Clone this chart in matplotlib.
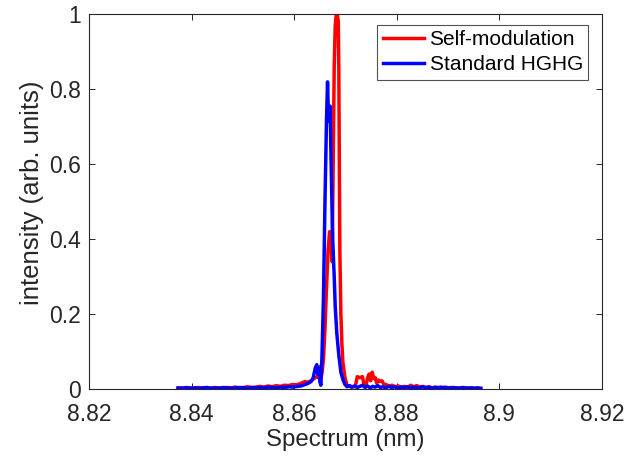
import matplotlib
matplotlib.use("Agg")
import matplotlib.pyplot as plt

plt.rcParams['font.family'] = ['Liberation Sans', 'DejaVu Sans']

# Self-modulation spectrum (wavelength nm, normalized intensity)
red_x = [8.8373, 8.8381, 8.8389, 8.8397, 8.8405, 8.8413, 8.8421, 8.8429, 8.8437, 8.8445,
         8.8453, 8.8461, 8.8469, 8.8477, 8.8485, 8.8493, 8.8501, 8.8509, 8.8517, 8.8525,
         8.8533, 8.8541, 8.8549, 8.8557, 8.8565, 8.8573, 8.8581, 8.8589, 8.8597, 8.8605,
         8.8613, 8.8621, 8.8627, 8.8633, 8.8639, 8.8644, 8.8648, 8.8650, 8.8652, 8.8654,
         8.8657, 8.8660, 8.8663, 8.8666, 8.8669, 8.8671, 8.8673, 8.8674, 8.8676, 8.8678,
         8.8680, 8.8682, 8.8684, 8.8686, 8.8687, 8.8688, 8.8689, 8.8691, 8.8693, 8.8695,
         8.8699, 8.8703, 8.8707, 8.8711, 8.8715, 8.8719, 8.8723, 8.8728, 8.8733, 8.8736,
         8.8740, 8.8743, 8.8746, 8.8749, 8.8752, 8.8755, 8.8758, 8.8761, 8.8764, 8.8767,
         8.8771, 8.8775, 8.8779, 8.8785, 8.8791, 8.8797, 8.8803, 8.8809, 8.8815, 8.8821,
         8.8827, 8.8833, 8.8839, 8.8845, 8.8851, 8.8857, 8.8863, 8.8869, 8.8875, 8.8881,
         8.8887, 8.8893, 8.8899, 8.8905, 8.8911, 8.8917, 8.8923, 8.8929, 8.8935, 8.8941,
         8.8947, 8.8957]
red_y = [0.002, 0.003, 0.001, 0.003, 0.002, 0.004, 0.002, 0.003, 0.002, 0.004,
         0.003, 0.002, 0.004, 0.003, 0.005, 0.003, 0.004, 0.006, 0.004, 0.005,
         0.007, 0.005, 0.008, 0.006, 0.009, 0.007, 0.010, 0.009, 0.012, 0.011,
         0.015, 0.020, 0.018, 0.022, 0.028, 0.033, 0.030, 0.060, 0.035, 0.040,
         0.080, 0.160, 0.270, 0.370, 0.420, 0.410, 0.360, 0.340, 0.600, 0.860,
         0.970, 1.000, 1.000, 0.980, 0.850, 0.600, 0.370, 0.200, 0.120, 0.070,
         0.030, 0.010, 0.008, 0.005, 0.007, 0.006, 0.033, 0.030, 0.033, 0.012,
         0.010, 0.030, 0.040, 0.022, 0.045, 0.028, 0.030, 0.015, 0.024, 0.020,
         0.022, 0.012, 0.012, 0.008, 0.010, 0.006, 0.008, 0.005, 0.007, 0.004,
         0.010, 0.006, 0.009, 0.005, 0.007, 0.004, 0.006, 0.003, 0.005, 0.004,
         0.003, 0.005, 0.003, 0.004, 0.002, 0.003, 0.002, 0.003, 0.002, 0.003,
         0.002, 0.002]

# Standard HGHG spectrum
blue_x = [8.8374, 8.8382, 8.8390, 8.8398, 8.8406, 8.8414, 8.8422, 8.8430, 8.8438, 8.8446,
          8.8454, 8.8462, 8.8470, 8.8478, 8.8486, 8.8494, 8.8502, 8.8510, 8.8518, 8.8526,
          8.8534, 8.8542, 8.8550, 8.8558, 8.8566, 8.8574, 8.8582, 8.8590, 8.8598, 8.8606,
          8.8613, 8.8621, 8.8627, 8.8633, 8.8637, 8.8641, 8.8644, 8.8646, 8.8648, 8.8650,
          8.8652, 8.8654, 8.8657, 8.8660, 8.8663, 8.8665, 8.8667, 8.8670, 8.8672, 8.8675,
          8.8678, 8.8680, 8.8683, 8.8687, 8.8691, 8.8695, 8.8699, 8.8703, 8.8708, 8.8713,
          8.8718, 8.8723, 8.8728, 8.8733, 8.8738, 8.8743, 8.8748, 8.8753, 8.8758, 8.8763,
          8.8768, 8.8773, 8.8778, 8.8784, 8.8790, 8.8796, 8.8802, 8.8808, 8.8814, 8.8820,
          8.8826, 8.8832, 8.8838, 8.8844, 8.8850, 8.8856, 8.8862, 8.8868, 8.8874, 8.8880,
          8.8886, 8.8892, 8.8898, 8.8904, 8.8910, 8.8916, 8.8922, 8.8928, 8.8934, 8.8940,
          8.8946, 8.8952, 8.8958, 8.8964]
blue_y = [0.003, 0.002, 0.004, 0.002, 0.003, 0.002, 0.003, 0.004, 0.002, 0.003,
          0.002, 0.004, 0.003, 0.002, 0.003, 0.004, 0.003, 0.002, 0.004, 0.003,
          0.004, 0.003, 0.005, 0.004, 0.003, 0.005, 0.004, 0.006, 0.005, 0.007,
          0.008, 0.012, 0.015, 0.020, 0.030, 0.055, 0.065, 0.040, 0.055, 0.020,
          0.010, 0.080, 0.240, 0.500, 0.720, 0.820, 0.715, 0.755, 0.600, 0.400,
          0.300, 0.220, 0.150, 0.090, 0.045, 0.025, 0.012, 0.006, 0.009, 0.005,
          0.008, 0.004, 0.007, 0.010, 0.004, 0.008, 0.003, 0.007, 0.005, 0.009,
          0.004, 0.006, 0.003, 0.007, 0.004, 0.006, 0.003, 0.005, 0.004, 0.006,
          0.003, 0.005, 0.004, 0.003, 0.006, 0.003, 0.005, 0.002, 0.004, 0.003,
          0.005, 0.003, 0.004, 0.002, 0.004, 0.003, 0.002, 0.004, 0.003, 0.002,
          0.003, 0.002, 0.003, 0.002]

xticks = [8.82, 8.84, 8.86, 8.88, 8.90, 8.92]
xtick_labels = ["8.82", "8.84", "8.86", "8.88", "8.9", "8.92"]
yticks = [0, 0.2, 0.4, 0.6, 0.8, 1.0]
ytick_labels = ["0", "0.2", "0.4", "0.6", "0.8", "1"]

dark = '#262626'
fig = plt.figure(figsize=(6.28, 4.69), dpi=100)
ax = fig.add_axes([0.1417, 0.1706, 0.8169, 0.7985])

ax.plot(red_x, red_y, color=(1, 0, 0), lw=2.5, label='Self-modulation')
ax.plot(blue_x, blue_y, color=(0, 0, 1), lw=2.5, label='Standard HGHG')

ax.set_xlim(8.82, 8.92)
ax.set_ylim(0, 1)
ax.set_xticks(xticks)
ax.set_xticklabels(xtick_labels)
ax.set_yticks(yticks)
ax.set_yticklabels(ytick_labels)
ax.tick_params(direction='in', top=True, right=True, length=4, width=0.7,
               labelsize=16.5, colors=dark)
ax.tick_params(axis='x', pad=10)
ax.tick_params(axis='y', pad=6)
for s in ax.spines.values():
    s.set_color(dark)
    s.set_linewidth(0.8)

ax.set_xlabel('Spectrum (nm)', fontsize=17.3, color=dark, labelpad=2)
ax.set_ylabel('intensity (arb. units)', fontsize=18.5, color=dark, labelpad=2)
ax.yaxis.set_label_coords(-0.088, 0.525)

leg = ax.legend(loc='upper right', bbox_to_anchor=(0.9727, 0.972), borderaxespad=0,
                fontsize=15, frameon=True, fancybox=False, borderpad=0.25,
                handlelength=2.0, handletextpad=0.25, labelspacing=0.3)
leg.get_frame().set_edgecolor(dark)
leg.get_frame().set_linewidth(0.8)
for t in leg.get_texts():
    t.set_color('black')

fig.savefig('out.png', dpi=100)
